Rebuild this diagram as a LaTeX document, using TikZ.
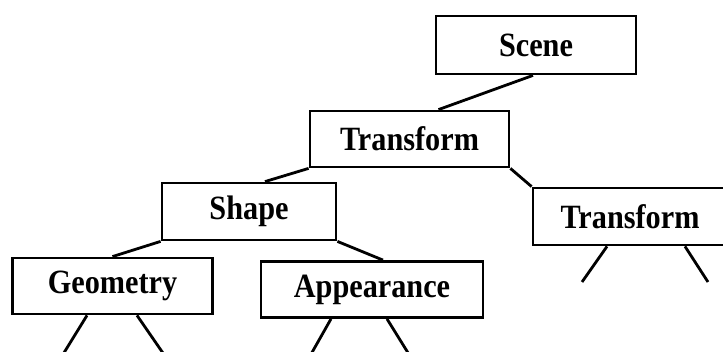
\documentclass[tikz,border=0pt]{standalone}
\usepackage{fontspec}
\newfontfamily\labelfont{Liberation Serif Bold}[FakeStretch=0.89]
\usetikzlibrary{calc}
\begin{document}
\begin{tikzpicture}[x=1pt,y=-1pt,
  treebox/.style={draw,line width=2.8pt,rectangle,inner sep=0pt,
    font=\labelfont\fontsize{34}{34}\selectfont},
  edge/.style={line width=2.8pt}]
\useasboundingbox (0,0) rectangle (723,352);
% scene graph nodes
\node[treebox,minimum width=200,minimum height=58] (scene) at (536,45) {Scene};
\node[treebox,minimum width=199,minimum height=56] (t1) at (409.5,139) {Transform};
\node[treebox,minimum width=174,minimum height=57] (shape) at (249,211.5) {Shape};
\node[treebox,minimum width=194,minimum height=57] (t2) at (630,216.5) {Transform};
\node[treebox,minimum width=200,minimum height=56] (geo) at (112.5,286) {Geometry};
\node[treebox,minimum width=222,minimum height=56] (app) at (372,289.5) {Appearance};
% parent-child links
\draw[edge] ($(scene.south)+(-3,0)$) -- ($(t1.north)+(29,0)$);
\draw[edge] (t1.south west) -- ($(shape.north)+(16,0)$);
\draw[edge] (t1.south east) -- (t2.north west);
\draw[edge] (shape.south west) -- (geo.north);
\draw[edge] (shape.south east) -- ($(app.north)+(11,0)$);
% open subtrees below the leaves
\coordinate (g1) at (62,356);
\coordinate (g2) at (165,356);
\coordinate (a1) at (310,356);
\coordinate (a2) at (410,356);
\coordinate (r1) at (582,282);
\coordinate (r2) at (708,282);
\draw[edge] ($(geo.south)+(-25.5,0)$) -- (g1);
\draw[edge] ($(geo.south)+(24.5,0)$) -- (g2);
\draw[edge] ($(app.south)+(-41,0)$) -- (a1);
\draw[edge] ($(app.south)+(15,0)$) -- (a2);
\draw[edge] ($(t2.south)+(-23,0)$) -- (r1);
\draw[edge] ($(t2.south)+(55,0)$) -- (r2);
\end{tikzpicture}
\end{document}
